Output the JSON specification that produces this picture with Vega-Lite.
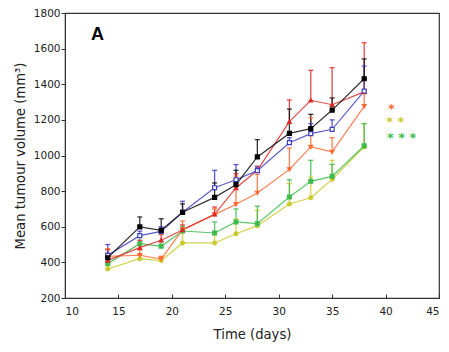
{
  "$schema": "https://vega.github.io/schema/vega-lite/v6.json",
  "width": 374,
  "height": 285,
  "autosize": "none",
  "padding": {"left": 65, "top": 13, "right": 10, "bottom": 54},
  "background": "white",
  "config": {
    "view": {"stroke": "#333333", "strokeWidth": 1.2},
    "axis": {"grid": false, "domainColor": "#333333", "tickColor": "#333333", "labelFont": "DejaVu Sans", "titleFont": "DejaVu Sans", "labelColor": "#222222", "titleColor": "#222222", "titleFontWeight": "normal", "labelFontSize": 10.5, "titleFontSize": 13.2}
  },
  "datasets": {
    "series": [
      {"g": "g1", "day": 14, "v": 363, "e": 380}, {"g": "g1", "day": 17, "v": 421, "e": 440}, {"g": "g1", "day": 19, "v": 410, "e": 430}, {"g": "g1", "day": 21, "v": 509, "e": 570}, {"g": "g1", "day": 24, "v": 509, "e": 560}, {"g": "g1", "day": 26, "v": 561, "e": 643}, {"g": "g1", "day": 28, "v": 606, "e": 692}, {"g": "g1", "day": 31, "v": 728, "e": 842}, {"g": "g1", "day": 33, "v": 763, "e": 879}, {"g": "g1", "day": 35, "v": 866, "e": 973}, {"g": "g1", "day": 38, "v": 1048, "e": 1179},
      {"g": "g2", "day": 14, "v": 393, "e": 420}, {"g": "g2", "day": 17, "v": 505, "e": 543}, {"g": "g2", "day": 19, "v": 490, "e": 520}, {"g": "g2", "day": 21, "v": 576, "e": 600}, {"g": "g2", "day": 24, "v": 565, "e": 627}, {"g": "g2", "day": 26, "v": 627, "e": 700}, {"g": "g2", "day": 28, "v": 617, "e": 715}, {"g": "g2", "day": 31, "v": 767, "e": 864}, {"g": "g2", "day": 33, "v": 855, "e": 973}, {"g": "g2", "day": 35, "v": 883, "e": 950}, {"g": "g2", "day": 38, "v": 1055, "e": 1179},
      {"g": "g3", "day": 14, "v": 434, "e": 477}, {"g": "g3", "day": 17, "v": 440, "e": 470}, {"g": "g3", "day": 19, "v": 419, "e": 434}, {"g": "g3", "day": 21, "v": 584, "e": 632}, {"g": "g3", "day": 24, "v": 668, "e": 700}, {"g": "g3", "day": 26, "v": 726, "e": 885}, {"g": "g3", "day": 28, "v": 790, "e": 894}, {"g": "g3", "day": 31, "v": 922, "e": 1042}, {"g": "g3", "day": 33, "v": 1048, "e": 1211}, {"g": "g3", "day": 35, "v": 1020, "e": 1100}, {"g": "g3", "day": 38, "v": 1276, "e": 1430},
      {"g": "g4", "day": 14, "v": 411, "e": 471}, {"g": "g4", "day": 17, "v": 483, "e": 524}, {"g": "g4", "day": 19, "v": 524, "e": 557}, {"g": "g4", "day": 21, "v": 582, "e": 610}, {"g": "g4", "day": 24, "v": 670, "e": 711}, {"g": "g4", "day": 26, "v": 818, "e": 898}, {"g": "g4", "day": 28, "v": 917, "e": 940}, {"g": "g4", "day": 31, "v": 1190, "e": 1312}, {"g": "g4", "day": 33, "v": 1310, "e": 1478}, {"g": "g4", "day": 35, "v": 1285, "e": 1493}, {"g": "g4", "day": 38, "v": 1357, "e": 1633},
      {"g": "g5", "day": 14, "v": 440, "e": 500}, {"g": "g5", "day": 17, "v": 550, "e": 575}, {"g": "g5", "day": 19, "v": 574, "e": 600}, {"g": "g5", "day": 21, "v": 681, "e": 743}, {"g": "g5", "day": 24, "v": 819, "e": 917}, {"g": "g5", "day": 26, "v": 864, "e": 949}, {"g": "g5", "day": 28, "v": 915, "e": 935}, {"g": "g5", "day": 31, "v": 1072, "e": 1100}, {"g": "g5", "day": 33, "v": 1123, "e": 1179}, {"g": "g5", "day": 35, "v": 1147, "e": 1200}, {"g": "g5", "day": 38, "v": 1362, "e": 1502},
      {"g": "g6", "day": 14, "v": 426, "e": 450}, {"g": "g6", "day": 17, "v": 599, "e": 655}, {"g": "g6", "day": 19, "v": 580, "e": 645}, {"g": "g6", "day": 21, "v": 681, "e": 728}, {"g": "g6", "day": 24, "v": 765, "e": 846}, {"g": "g6", "day": 26, "v": 836, "e": 917}, {"g": "g6", "day": 28, "v": 992, "e": 1089}, {"g": "g6", "day": 31, "v": 1124, "e": 1261}, {"g": "g6", "day": 33, "v": 1151, "e": 1231}, {"g": "g6", "day": 35, "v": 1255, "e": 1323}, {"g": "g6", "day": 38, "v": 1431, "e": 1542}
    ],
    "notes": [
      {"label": "A", "day": 13.05, "v": 1678, "g": "k"},
      {"label": "*", "day": 40.55, "v": 1262, "g": "g3"},
      {"label": "* *", "day": 40.9, "v": 1186, "g": "g1"},
      {"label": "* * *", "day": 41.5, "v": 1098, "g": "g2"}
    ]
  },
  "encoding": {
    "x": {"field": "day", "type": "quantitative", "scale": {"domain": [10, 45], "nice": false}, "axis": {"tickCount": 7, "title": "Time (days)", "tickSize": -4, "labelPadding": 12, "titlePadding": 12, "labelOverlap": false, "format": "d"}},
    "y": {"field": "v", "type": "quantitative", "scale": {"domain": [200, 1800], "nice": false}, "axis": {"tickCount": 8, "title": "Mean tumour volume (mm³)", "tickSize": 4, "labelPadding": 1, "titlePadding": 6, "labelOverlap": false, "format": "d"}}
  },
  "layer": [
    {
      "data": {"name": "series"},
      "mark": {"type": "rule", "strokeWidth": 1.3, "opacity": 0.85},
      "encoding": {
        "y2": {"field": "e"},
        "color": {"field": "g", "type": "nominal", "legend": null, "scale": {"domain": ["g1", "g2", "g3", "g4", "g5", "g6", "k"], "range": ["#c9c92a", "#3dbb4b", "#ff6a33", "#dd2a2a", "#3f3fbf", "#111111", "#000000"]}}
      }
    },
    {
      "data": {"name": "series"},
      "mark": {"type": "tick", "orient": "horizontal", "size": 5, "thickness": 1.3, "opacity": 0.85},
      "encoding": {
        "y": {"field": "e", "type": "quantitative"},
        "color": {"field": "g", "type": "nominal", "legend": null}
      }
    },
    {
      "data": {"name": "series"},
      "mark": {"type": "line", "strokeWidth": 1.2, "opacity": 0.85},
      "encoding": {
        "color": {"field": "g", "type": "nominal", "legend": null}
      }
    },
    {
      "data": {"name": "series"},
      "mark": {"type": "point", "filled": false, "strokeWidth": 1.2, "opacity": 1},
      "encoding": {
        "stroke": {"field": "g", "type": "nominal", "legend": null, "scale": {"domain": ["g1", "g2", "g3", "g4", "g5", "g6"], "range": ["#c9c92a", "#3dbb4b", "#ff6a33", "#dd2a2a", "#3f3fbf", "#000000"]}},
        "fill": {"field": "g", "type": "nominal", "legend": null, "scale": {"domain": ["g1", "g2", "g3", "g4", "g5", "g6"], "range": ["#c9c92a", "#3dbb4b", "#ff6a33", "#dd2a2a", "#ffffff", "#000000"]}},
        "shape": {"field": "g", "type": "nominal", "legend": null, "scale": {"domain": ["g1", "g2", "g3", "g4", "g5", "g6"], "range": ["circle", "square", "triangle-down", "triangle-up", "square", "square"]}},
        "size": {"field": "g", "type": "nominal", "legend": null, "scale": {"domain": ["g1", "g2", "g3", "g4", "g5", "g6"], "range": [14, 16, 14, 14, 22, 36]}}
      }
    },
    {
      "data": {"name": "notes"},
      "mark": {"type": "text", "font": "Liberation Sans", "fontWeight": "bold", "fontSize": 18, "align": "center", "baseline": "middle"},
      "transform": [{"filter": "datum.g == 'k'"}],
      "encoding": {
        "text": {"field": "label"}
      }
    },
    {
      "data": {"name": "notes"},
      "mark": {"type": "text", "font": "DejaVu Sans", "fontWeight": "bold", "fontSize": 13, "align": "center", "baseline": "middle"},
      "transform": [{"filter": "datum.g != 'k'"}],
      "encoding": {
        "text": {"field": "label"},
        "color": {"field": "g", "type": "nominal", "legend": null}
      }
    }
  ]
}
